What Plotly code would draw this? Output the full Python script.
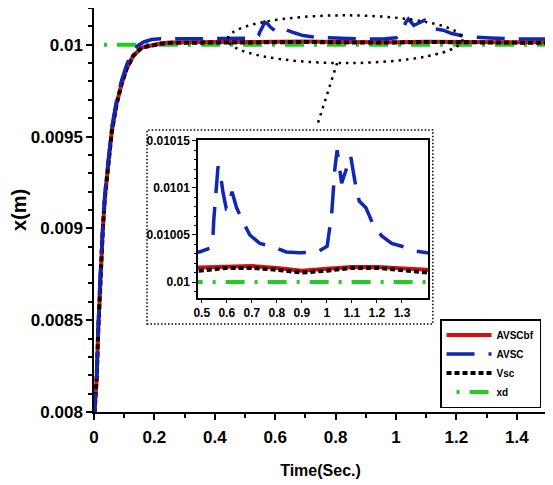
import plotly.graph_objects as go

# time axis ticks
x_ticks = [0, 0.2, 0.4, 0.6, 0.8, 1.0, 1.2, 1.4]
x_ticktext = ["0", "0.2", "0.4", "0.6", "0.8", "1", "1.2", "1.4"]
y_ticks = [0.008, 0.0085, 0.009, 0.0095, 0.01]
y_ticktext = ["0.008", "0.0085", "0.009", "0.0095", "0.01"]

# zoomed window ticks
zx_ticks = [0.5, 0.6, 0.7, 0.8, 0.9, 1.0, 1.1, 1.2, 1.3]
zx_ticktext = ["0.5", "0.6", "0.7", "0.8", "0.9", "1", "1.1", "1.2", "1.3"]
zy_ticks = [0.01, 0.01005, 0.0101, 0.01015]
zy_ticktext = ["0.01", "0.01005", "0.0101", "0.01015"]

# AVSCbf and Vsc
t_bf = [0.0, 0.009, 0.014, 0.02, 0.029, 0.036, 0.047, 0.059, 0.075, 0.092, 0.108, 0.13,
        0.158, 0.19, 0.22, 0.25, 0.3, 0.4, 0.49, 0.6, 0.7, 0.8, 0.9, 1.0, 1.1, 1.2,
        1.3, 1.4, 1.5]
x_avscbf = [0.00795, 0.00819, 0.008446, 0.00871, 0.00899, 0.00917, 0.00935, 0.00953,
            0.00968, 0.00979, 0.00987, 0.00994, 0.009985, 0.009999, 0.010007, 0.010012,
            0.010014, 0.010015, 0.010015, 0.010017, 0.010017, 0.010015, 0.010012,
            0.010014, 0.010016, 0.010016, 0.010014, 0.010013, 0.010013]
x_vsc = [0.00795, 0.00819, 0.008446, 0.00871, 0.00899, 0.00917, 0.00935, 0.00953,
         0.00968, 0.00979, 0.00987, 0.00994, 0.009985, 0.009998, 0.010005, 0.01001,
         0.010012, 0.010012, 0.010012, 0.010015, 0.010015, 0.010013, 0.01001,
         0.010012, 0.010015, 0.010015, 0.010012, 0.01001, 0.01001]

# AVSC
t_avsc = [0.0, 0.009, 0.014, 0.02, 0.029, 0.036, 0.047, 0.059, 0.075, 0.092, 0.108,
          0.125, 0.145, 0.165, 0.19, 0.22, 0.3, 0.4, 0.491, 0.532, 0.545, 0.548, 0.559,
          0.565, 0.575, 0.585, 0.598, 0.605, 0.621, 0.639, 0.663, 0.692, 0.732, 0.779,
          0.837, 0.89, 0.963, 1.001, 1.019, 1.023, 1.032, 1.041, 1.059, 1.079, 1.095,
          1.112, 1.129, 1.156, 1.185, 1.219, 1.259, 1.312, 1.353, 1.399, 1.45, 1.5]
x_avsc = [0.00795, 0.0082, 0.00846, 0.00873, 0.009, 0.00918, 0.00937, 0.00955, 0.0097,
          0.00981, 0.00989, 0.009955, 0.009995, 0.010015, 0.010028, 0.010032, 0.010032,
          0.010032, 0.010032, 0.010036, 0.01005, 0.010066, 0.0101, 0.010123, 0.010114,
          0.010095, 0.010078, 0.010079, 0.010096, 0.010079, 0.010065, 0.01005, 0.010041,
          0.010038, 0.010032, 0.010031, 0.010032, 0.010038, 0.010072, 0.010088,
          0.010121, 0.01014, 0.010105, 0.010121, 0.010134, 0.010107, 0.010086, 0.010079,
          0.010061, 0.010049, 0.010041, 0.010037, 0.010033, 0.010031, 0.010031, 0.010031]

# xd reference
t_xd = [0.0, 1.5]
x_xd = [0.01, 0.01]

FONT = "Liberation Sans"
TICK_FONT = dict(family=FONT, size=17, color="black", weight="bold")
SMALL_FONT = dict(family=FONT, size=12, color="black", weight="bold")

series = [
    ("xd", t_xd, x_xd, dict(color="#22cc22", width=4, dash="0px,10px,3px,10px,19px,0px"), 4),
    ("AVSCbf", t_bf, x_avscbf, dict(color="#d80e0e", width=4), 1),
    ("Vsc", t_bf, x_vsc, dict(color="black", width=4, dash="5px,3px"), 3),
    ("AVSC", t_avsc, x_avsc, dict(color="#1026b4", width=3.5, dash="28px,14px"), 2),
]

fig = go.Figure()
for name, t, v, line, rank in series:
    fig.add_trace(go.Scatter(x=t, y=v, mode="lines", name=name, line=line,
                             legendrank=rank, xaxis="x", yaxis="y"))
for name, t, v, line, rank in series:
    fig.add_trace(go.Scatter(x=t, y=v, mode="lines", name=name, line=line,
                             showlegend=False, xaxis="x2", yaxis="y2"))

axis_common = dict(showline=True, linecolor="black", linewidth=1.5, mirror=True,
                   showgrid=False, zeroline=False, ticks="outside", tickcolor="black",
                   automargin=False)

# page body has an 8px margin, so the figure is 8px smaller each way
fig.update_layout(
    width=545, height=477,
    margin=dict(l=86, r=6, t=0, b=73),
    plot_bgcolor="white", paper_bgcolor="white",
    xaxis=dict(axis_common, range=[0, 1.5], tickvals=x_ticks, ticktext=x_ticktext,
               ticklen=6, tickwidth=1.5, tickfont=TICK_FONT, ticklabelstandoff=3,
               minor=dict(tickmode="linear", tick0=0, dtick=0.1, ticks="outside",
                          ticklen=4, tickcolor="black"),
               title=dict(text="Time(Sec.)", standoff=19,
                          font=dict(family=FONT, size=16, color="black", weight="bold"))),
    yaxis=dict(axis_common, range=[0.008, 0.0102], tickvals=y_ticks, ticktext=y_ticktext,
               ticklen=6, tickwidth=1.5, tickfont=TICK_FONT,
               minor=dict(tickmode="linear", tick0=0.008, dtick=0.0001, ticks="outside",
                          ticklen=4, tickcolor="black"),
               title=dict(text="x(m)", standoff=3,
                          font=dict(family=FONT, size=20, color="black", weight="bold"))),
    xaxis2=dict(axis_common, domain=[0.2296, 0.7373], anchor="y2", range=[0.485, 1.404],
                tickvals=zx_ticks, ticktext=zx_ticktext, ticklen=3, tickwidth=1,
                tickfont=SMALL_FONT),
    yaxis2=dict(axis_common, domain=[0.2822, 0.6733], anchor="x2",
                range=[0.009983, 0.010151], tickvals=zy_ticks, ticktext=zy_ticktext,
                ticklen=4, tickwidth=1, tickfont=SMALL_FONT,
                minor=dict(tickmode="linear", tick0=0.01, dtick=0.00001, ticks="outside",
                           ticklen=2, tickcolor="black")),
    legend=dict(x=0.9868, xanchor="right", y=0.0099, yanchor="bottom",
                bgcolor="white", bordercolor="black", borderwidth=1.5,
                font=dict(family=FONT, size=10, color="black", weight="bold"),
                tracegroupgap=0, itemwidth=45),
    shapes=[
        dict(type="rect", xref="paper", yref="paper", x0=0.117, x1=0.748, y0=0.2178,
             y1=0.698, line=dict(color="black", width=1.5, dash="1.5px,2px"),
             fillcolor="white", layer="below"),
        dict(type="circle", xref="x", yref="y", x0=0.443, x1=1.22, y0=0.0099,
             y1=0.01016, line=dict(color="black", width=2.5, dash="2.5px,5px")),
        dict(type="line", xref="x", yref="y", x0=0.805, y0=0.0099, x1=0.742,
             y1=0.009576, line=dict(color="black", width=2.5, dash="2.5px,5px")),
    ],
)

fig.write_html("out.html")
